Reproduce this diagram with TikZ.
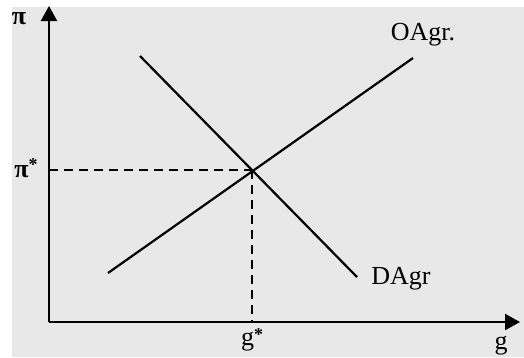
\documentclass[tikz,border=0pt]{standalone}
\usepackage{fontspec}
\setmainfont{Liberation Serif}
\usetikzlibrary{arrows.meta}
\begin{document}
\begin{tikzpicture}[x=1pt,y=-1pt,
  axis/.style={line width=2.2pt,-{Triangle[length=15pt,width=16pt]}},
  curve/.style={line width=2.2pt},
  guide/.style={line width=2pt,dash pattern=on 9pt off 6pt},
  lbl/.style={font=\fontsize{26}{28}\selectfont, inner sep=0pt}]
\useasboundingbox (0,0) rectangle (524,357);
\fill[white] (0,0) rectangle (524,357);
\fill[black!9] (12,7) rectangle (524,357);
\coordinate (O) at (49,322);
\coordinate (ytop) at (49,6);
\coordinate (xend) at (520,322);
\coordinate (E) at (252,170);
\coordinate (ps) at (49,170);
\coordinate (gs) at (252,322);
\coordinate (o1) at (108,273);
\coordinate (o2) at (413,58);
\coordinate (d1) at (140,56);
\coordinate (d2) at (357,277);
\draw[axis] (O) -- (ytop);
\draw[axis] (O) -- (xend);
\draw[curve] (o1) -- (o2);
\draw[curve] (d1) -- (d2);
\draw[guide] (ps) -- (E);
\draw[guide] (E) -- (gs);
\node[lbl] (pi) at (19,19) {\textbf{π}};
\node[lbl] (pistar) at (26,168) {\textbf{π}\raisebox{7pt}{\fontsize{18}{20}\selectfont\textbf{*}}};
\node[lbl] (gstar) at (252,340) {g\raisebox{5pt}{\fontsize{18}{20}\selectfont\textbf{*}}};
\node[lbl] (g) at (501,346) {g};
\node[lbl] (oagr) at (423,35) {OAgr.};
\node[lbl] (dagr) at (401,279) {DAgr};
\end{tikzpicture}
\end{document}
